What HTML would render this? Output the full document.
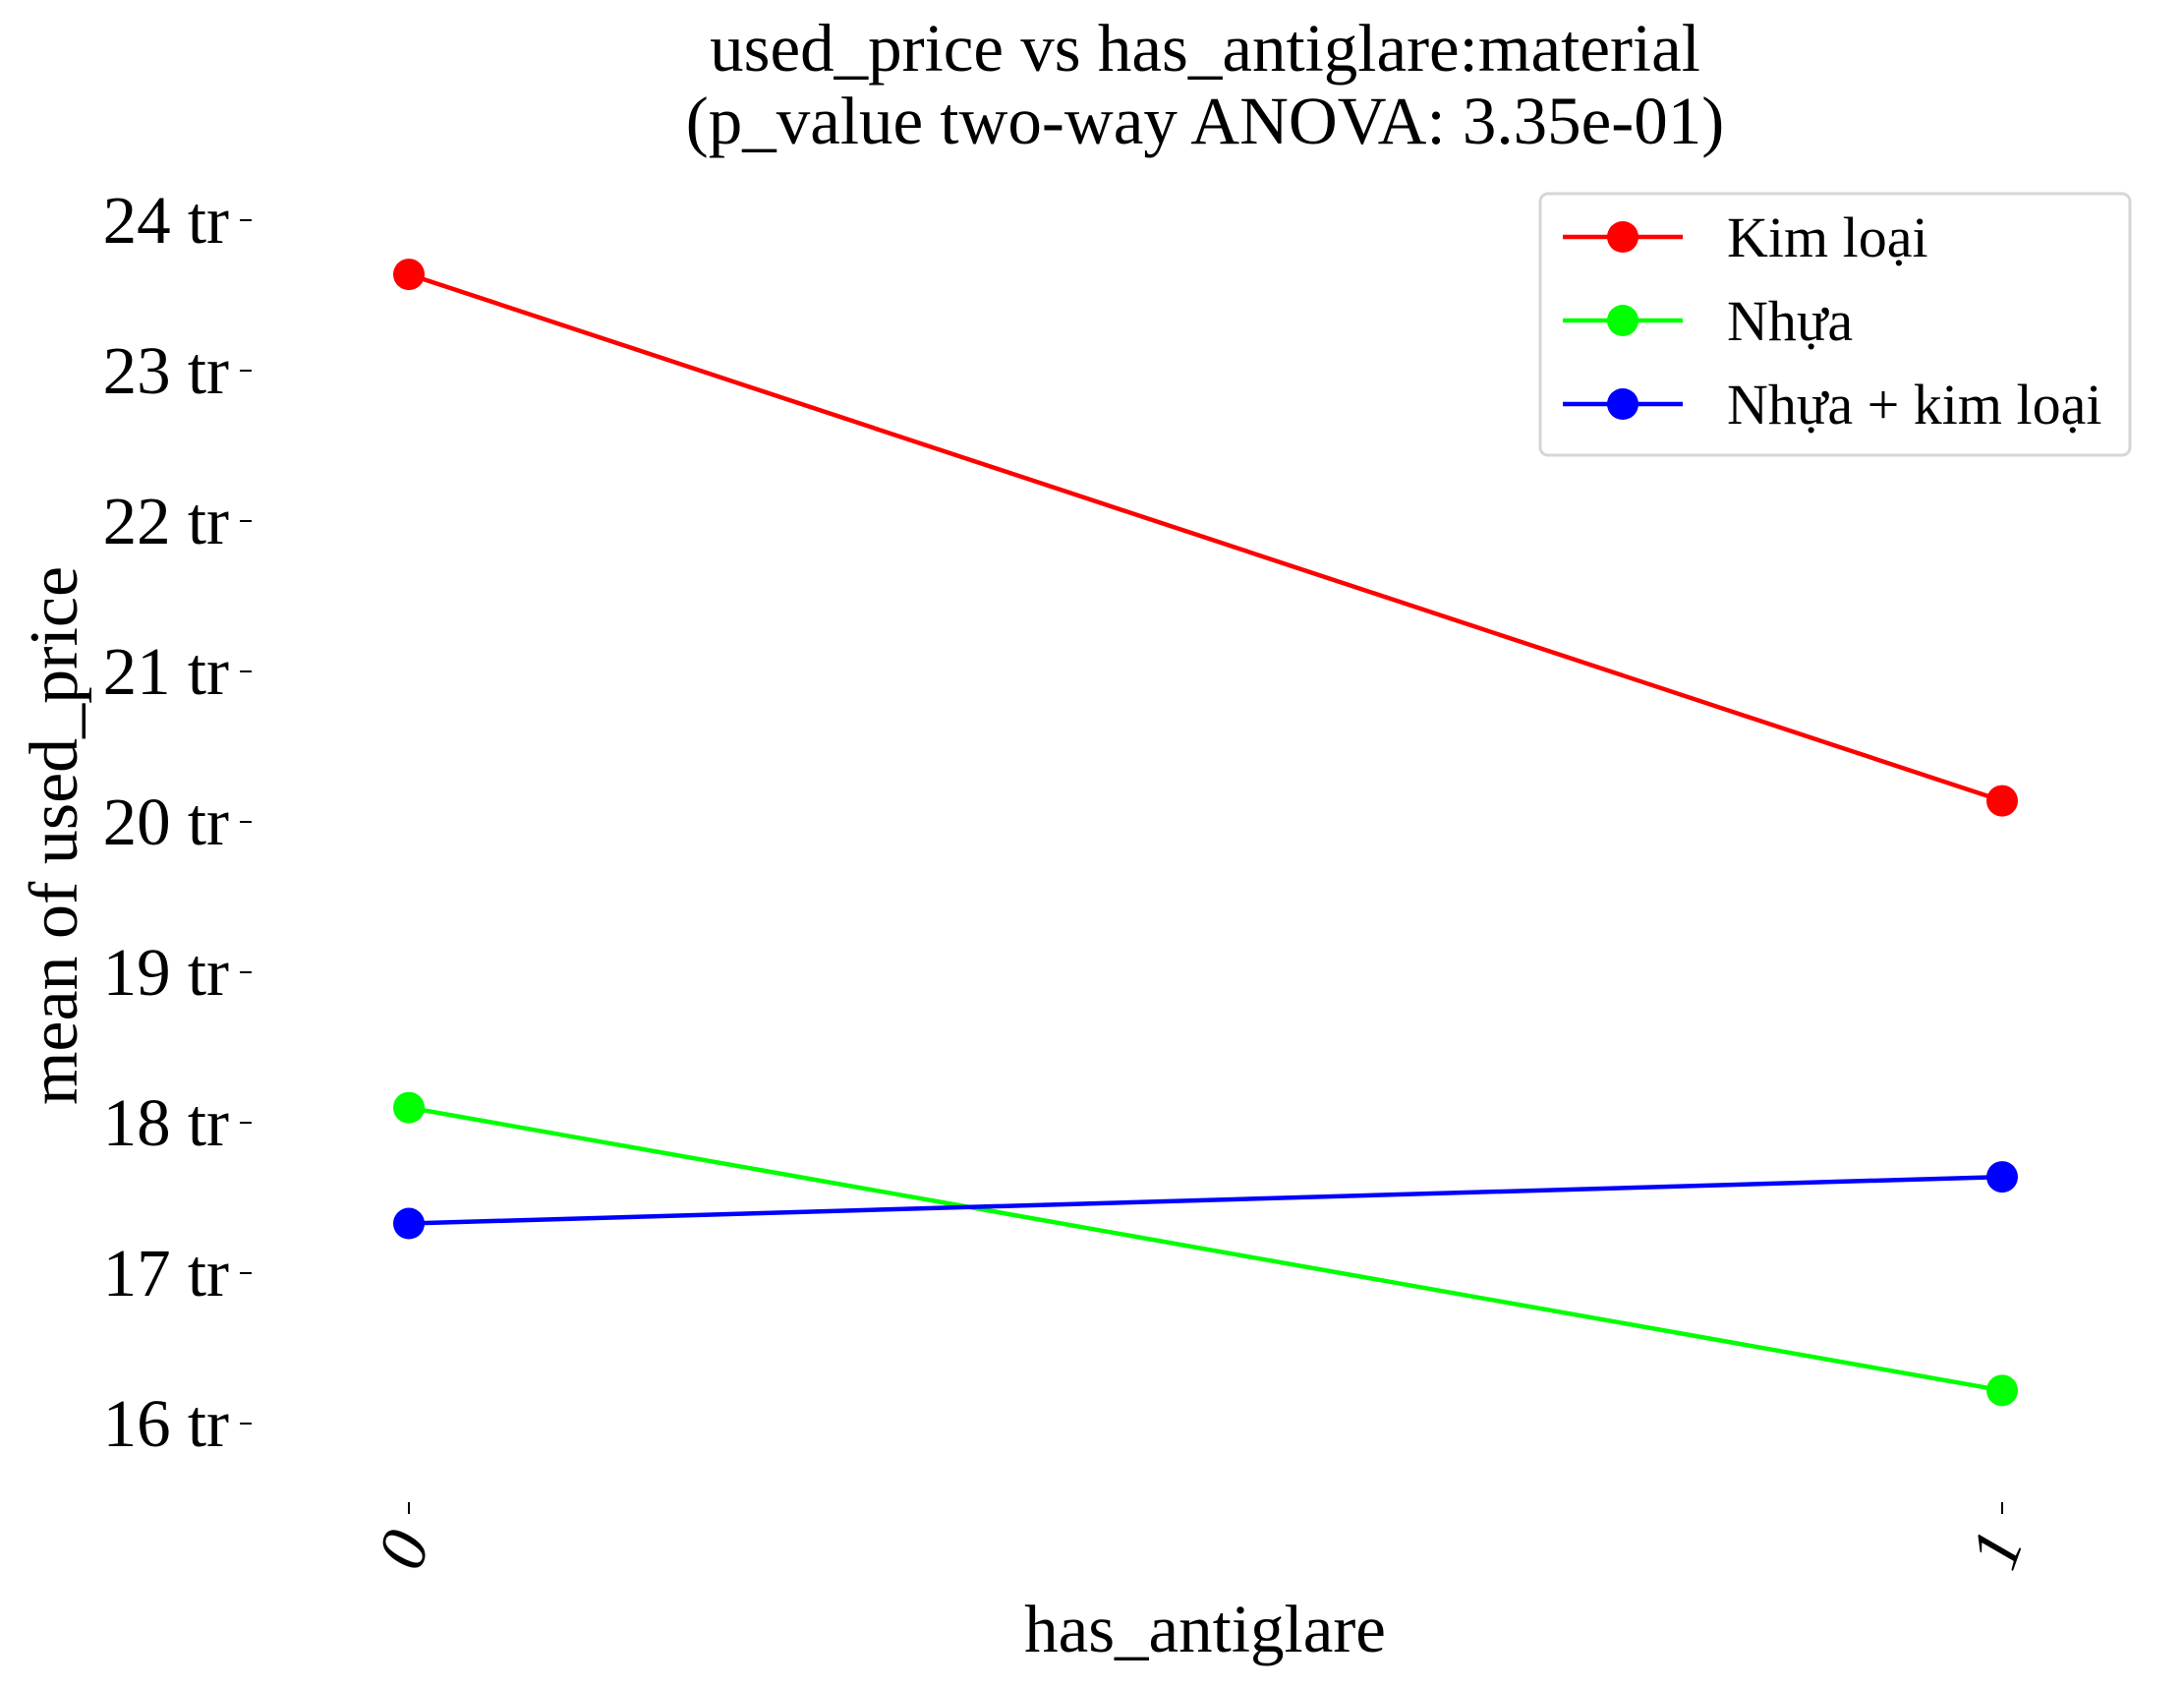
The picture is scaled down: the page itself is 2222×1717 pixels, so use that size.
<!DOCTYPE html>
<html><head><meta charset="utf-8"><style>
html,body{margin:0;padding:0;background:#fff;}
svg{display:block;font-family:"Liberation Serif","DejaVu Serif",serif;}
</style></head><body>
<svg id="chart" width="2222" height="1717" viewBox="0 0 2222 1717">
<text x="1226" y="72" font-size="69" text-anchor="middle">used_price vs has_antiglare:material</text>
<text x="1226" y="146" font-size="69" text-anchor="middle">(p_value two-way ANOVA: 3.35e-01)</text>
<g id="yaxis"></g>
<g id="xaxis"></g>
<g id="series"></g>
<text x="1226" y="1680" font-size="69" text-anchor="middle">has_antiglare</text>
<text transform="translate(78,850) rotate(-90)" font-size="70" text-anchor="middle">mean of used_price</text>
<g>
<rect x="1567" y="197" width="600" height="266" rx="8" fill="#fff" stroke="#d6d6d6" stroke-width="3"/>
<g id="legendItems"></g>
</g>
</svg>
<script>
const categories = ["0", "1"];
const seriesNames = ["Kim loại", "Nhựa", "Nhựa + kim loại"];
const seriesColors = ["#ff0000", "#00ff00", "#0000ff"];
const kimLoai = [23.64, 20.14];
const nhua = [18.10, 16.22];
const nhuaKimLoai = [17.33, 17.64];
const yTicks = [16, 17, 18, 19, 20, 21, 22, 23, 24];
const yTickLabels = ["16 tr","17 tr","18 tr","19 tr","20 tr","21 tr","22 tr","23 tr","24 tr"];

const NS = "http://www.w3.org/2000/svg";
function yScale(v){ return 1448 - (v - 16) * 153; }
function xScale(i){ return 416 + i * (2037 - 416); }
function mk(tag, attrs, parent){ const e = document.createElementNS(NS, tag); for (const k in attrs) e.setAttribute(k, attrs[k]); parent.appendChild(e); return e; }

const ya = document.getElementById('yaxis');
yTicks.forEach((t, i) => {
  const y = yScale(t);
  const tk = mk('line', {x1:244, x2:256, y1:y, y2:y, stroke:'#000', 'stroke-width':2}, ya);
  
  
  const lb = mk('text', {x:233, y:y + 23, 'font-size':69, 'text-anchor':'end'}, ya);
  lb.textContent = yTickLabels[i];
  
  
});

const xa = document.getElementById('xaxis');
categories.forEach((c, i) => {
  const x = xScale(i);
  const tk = mk('line', {x1:x, x2:x, y1:1528, y2:1540, stroke:'#000', 'stroke-width':2}, xa);
  
  
  const lb = mk('text', {transform:'translate(' + (x + 16) + ',1584) rotate(-70)', 'font-size':69, 'text-anchor':'middle', 'font-style':'italic'}, xa);
  lb.textContent = c;
  
  
});

const sg = document.getElementById('series');
const allSeries = [kimLoai, nhua, nhuaKimLoai];
allSeries.forEach((vals, s) => {
  const pts = vals.map((v, i) => xScale(i) + ',' + yScale(v)).join(' ');
  const pl = mk('polyline', {points:pts, fill:'none', stroke:seriesColors[s], 'stroke-width':4.5}, sg);
  
  
  vals.forEach((v, i) => {
    const c = mk('circle', {cx:xScale(i), cy:yScale(v), r:16, fill:seriesColors[s]}, sg);
    
    
  });
});

const lg = document.getElementById('legendItems');
seriesNames.forEach((n, s) => {
  const y = 241 + s * 85;
  const ln = mk('line', {x1:1590, x2:1712, y1:y, y2:y, stroke:seriesColors[s], 'stroke-width':4.5}, lg);
  
  
  const c = mk('circle', {cx:1651, cy:y, r:16, fill:seriesColors[s]}, lg);
  
  
  const t = mk('text', {x:1757, y:y + 20, 'font-size':58}, lg);
  t.textContent = n;
  
  
});
</script>
</body></html>
